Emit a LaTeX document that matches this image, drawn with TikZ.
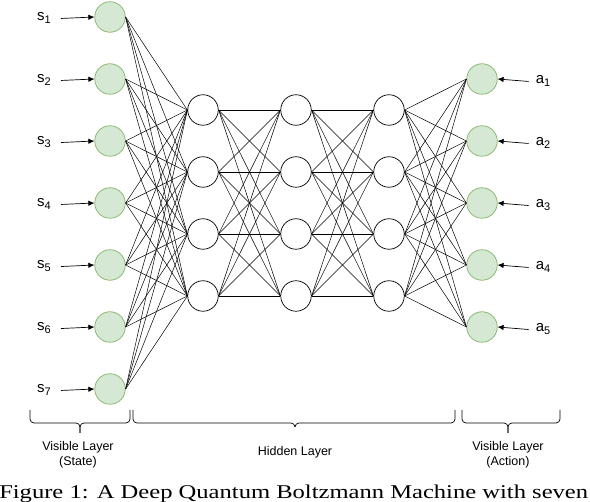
\documentclass[tikz,border=0pt]{standalone}
\usepackage{fontspec}
\setmainfont{Liberation Sans}
\newfontfamily\capfont{Liberation Serif}
\usetikzlibrary{arrows.meta}
\definecolor{visfill}{HTML}{D5E8D4}
\definecolor{visline}{HTML}{82B366}
\newcommand{\idx}[1]{\raisebox{-3pt}{\fontsize{11}{11}\selectfont#1}}
\tikzset{
  vunit/.style={circle,draw=visline,fill=visfill,minimum size=30.5pt,inner sep=0pt,line width=0.7pt},
  hunit/.style={circle,draw=black,fill=white,minimum size=30.5pt,inner sep=0pt,line width=0.7pt},
  vlabel/.style={font=\fontsize{15}{15}\selectfont,inner sep=0pt,anchor=base},
  warr/.style={-{Latex[length=6pt,width=5.5pt]},line width=0.7pt,draw=black},
  wline/.style={line width=0.5pt,draw=black},
  vbrace/.style={line width=0.7pt,draw=black,rounded corners=4pt},
  llabel/.style={font=\fontsize{12.5}{14.5}\selectfont,align=center,inner sep=0pt}
}

\begin{document}
\begin{tikzpicture}[x=1pt,y=-1pt]
  \useasboundingbox (0,0) rectangle (590,502);
  \clip (0,0) rectangle (590,502);
  % visible layer (state)
  \foreach \i in {1,...,7} {
    \node[vunit] (s\i) at (110,{17+62*(\i-1)}) {};
    \node[vlabel] (ls\i) at (44,{21+62*(\i-1)}) {s\idx{\i}};
    \draw[warr] ([xshift=10pt]ls\i.east) -- (s\i.west);
  }
  % hidden layers
  \foreach \j in {1,...,4} {
    \node[hunit] (ha\j) at (203,{110+62*(\j-1)}) {};
    \node[hunit] (hb\j) at (296,{110+62*(\j-1)}) {};
    \node[hunit] (hc\j) at (389,{110+62*(\j-1)}) {};
  }
  % visible layer (action)
  \foreach \k in {1,...,5} {
    \node[vunit] (a\k) at (482,{79+62*(\k-1)}) {};
    \node[vlabel] (la\k) at (543,{84+62*(\k-1)}) {a\idx{\k}};
    \draw[warr] ([xshift=-7pt]la\k.west) -- (a\k.east);
  }
  % weights
  \foreach \i in {1,...,7} \foreach \j in {1,...,4}
    \draw[wline] (s\i.east) -- (ha\j.west);
  \foreach \i in {1,...,4} \foreach \j in {1,...,4} {
    \draw[wline] (ha\i.east) -- (hb\j.west);
    \draw[wline] (hb\i.east) -- (hc\j.west);
  }
  \foreach \i in {1,...,4} \foreach \k in {1,...,5}
    \draw[wline] (hc\i.east) -- (a\k.west);
  % braces
  \draw[vbrace] (30,410) -- (30,423) -- (80,423) -- (80,433);
  \draw[vbrace] (130,410) -- (130,423) -- (80,423) -- (80,433);
  \draw[vbrace] (133,410) -- (133,423) -- (295,423) -- (295,427);
  \draw[vbrace] (455,410) -- (455,423) -- (295,423) -- (295,427);
  \draw[vbrace] (462,410) -- (462,423) -- (508,423) -- (508,433);
  \draw[vbrace] (560,410) -- (560,423) -- (508,423) -- (508,433);
  \node[llabel] (lvs) at (78,455) {Visible Layer\\(State)};
  \node[llabel] (lhd) at (295,452) {Hidden Layer};
  \node[llabel] (lva) at (508,455) {Visible Layer\\(Action)};
  \node[anchor=base west,inner sep=0pt,xscale=1.26,font=\capfont\fontsize{19.5}{20}\selectfont] (cap) at (-1,499) {Figure 1: A Deep Quantum Boltzmann Machine with seven};
\end{tikzpicture}
\end{document}
